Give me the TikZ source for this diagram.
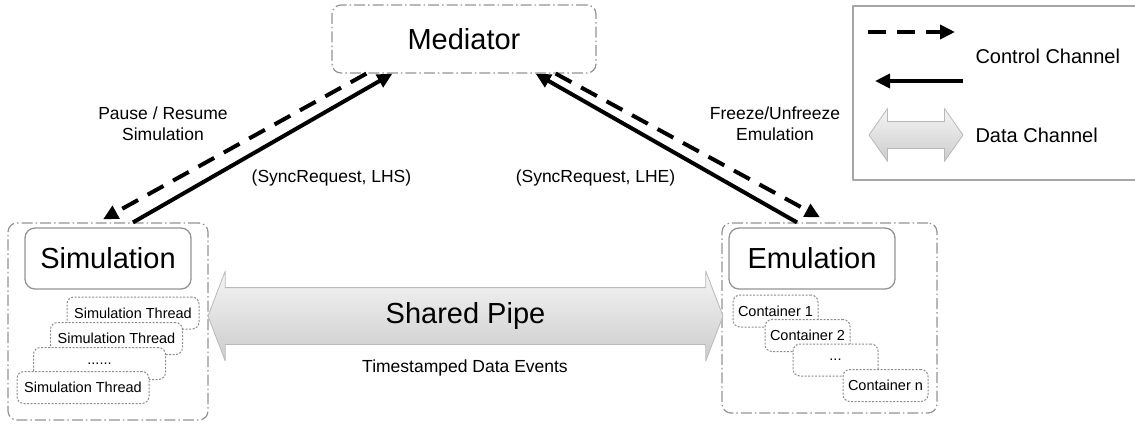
\documentclass[tikz,border=0pt]{standalone}
\usepackage{fontspec}
\setmainfont{Liberation Sans}
\usetikzlibrary{arrows,arrows.meta,shapes,calc}

\begin{document}
\begin{tikzpicture}[x=1pt,y=-1pt,>={Triangle[length=15pt,width=14pt]},line join=round]

  \tikzstyle{dashdot}=[rectangle,draw=gray!85,line width=1.2pt,dash pattern=on 11pt off 3pt on 1.5pt off 3pt,rounded corners=9pt]
  \tikzstyle{block}=[rectangle,draw=gray!85,line width=1.3pt,rounded corners=10pt,minimum width=166pt,minimum height=61pt]
  \tikzstyle{worker}=[rectangle,draw=gray!90,fill=white,line width=1pt,dash pattern=on 2pt off 1.5pt,rounded corners=7pt,minimum height=32pt,font=\fontsize{14.5}{17}\selectfont]
  \tikzstyle{ctrl}=[->,line width=4pt]
  \tikzstyle{ctrl dashed}=[ctrl,dash pattern=on 18pt off 11pt]
  \tikzstyle{note}=[align=center,font=\fontsize{17.5}{21}\selectfont]
  \tikzstyle{big}=[font=\fontsize{29}{33}\selectfont]
  \tikzstyle{pipe}=[double arrow,draw=gray!55,line width=0.8pt,top color=gray!8,bottom color=gray!40,inner xsep=0pt]

  \useasboundingbox (0,0) rectangle (1135,423);

  % mediator on top
  \node[dashdot,big,minimum width=264pt,minimum height=68pt] (med) at (464,39) {Mediator};

  % simulation side
  \node[dashdot,minimum width=200pt,minimum height=197pt] (simgrp) at (108,321.5) {};
  \node[block,big] (sim) at (108,258.5) {Simulation};
  \node[worker,minimum width=132pt] (th1) at (133,313)   {Simulation Thread};
  \node[worker,minimum width=132pt] (th2) at (116.5,338.5) {Simulation Thread};
  \node[worker,minimum width=132pt] (th3) at (99.5,363.5)  {......};
  \node[worker,minimum width=132pt] (th4) at (83,387.5)    {Simulation Thread};

  % emulation side
  \node[dashdot,minimum width=215pt,minimum height=190pt] (emugrp) at (829.5,318) {};
  \node[block,big] (emu) at (812,258.5) {Emulation};
  \node[worker,minimum width=85pt] (ct1) at (775.5,311)  {Container 1};
  \node[worker,minimum width=85pt] (ct2) at (807.5,335.5) {Container 2};
  \node[worker,minimum width=85pt] (ct3) at (835.5,360)   {...};
  \node[worker,minimum width=85pt] (ctn) at (885.5,385.5) {Container n};

  % data channel between both sides
  \node[pipe,big,minimum height=515pt,text height=20pt,text depth=6pt,inner ysep=15pt,
        double arrow head extend=16.5pt,double arrow tip angle=138] (pipe) at (465.5,316) {Shared Pipe};
  \node[note] (events) at (465,368) {Timestamped Data Events};

  % control channels
  \draw[ctrl] ($(simgrp.north)+(25,0)$) -- ($(med.south west)+(61,0)$);
  \draw[ctrl dashed] ($(med.south west)+(35,0)$) -- ($(simgrp.north)+(-5,-3)$);
  \draw[ctrl] ($(emugrp.north)+(-32.5,0)$) -- ($(med.south east)+(-61,0)$);
  \draw[ctrl dashed] ($(med.south east)+(-41,0)$) -- ($(emugrp.north)+(-9.5,-5)$);

  \node[note] (pause)  at (163,123.5) {Pause / Resume\\Simulation};
  \node[note] (reqs)   at (331.5,178) {(SyncRequest, LHS)};
  \node[note] (reqe)   at (595.5,178) {(SyncRequest, LHE)};
  \node[note] (freeze) at (775,123.5) {Freeze/Unfreeze\\Emulation};

  % legend
  \node[rectangle,draw=gray!70,line width=1.2pt,minimum width=286pt,minimum height=174pt] (legend) at (996,93) {};
  \coordinate (lg1) at (868,32);
  \coordinate (lg2) at (955,32);
  \coordinate (lg3) at (963,81);
  \coordinate (lg4) at (875,81);
  \draw[ctrl dashed] (lg1) -- (lg2);
  \draw[ctrl] (lg3) -- (lg4);
  \node[pipe,minimum height=94pt,inner ysep=13pt,double arrow head extend=13pt,
        double arrow tip angle=110] (lgpipe) at (916,135) {};
  \node[anchor=west,font=\fontsize{20}{24}\selectfont] (lgctrl) at (972,56) {Control Channel};
  \node[anchor=west,font=\fontsize{20}{24}\selectfont] (lgdata) at (972,135) {Data Channel};

\end{tikzpicture}
\end{document}
